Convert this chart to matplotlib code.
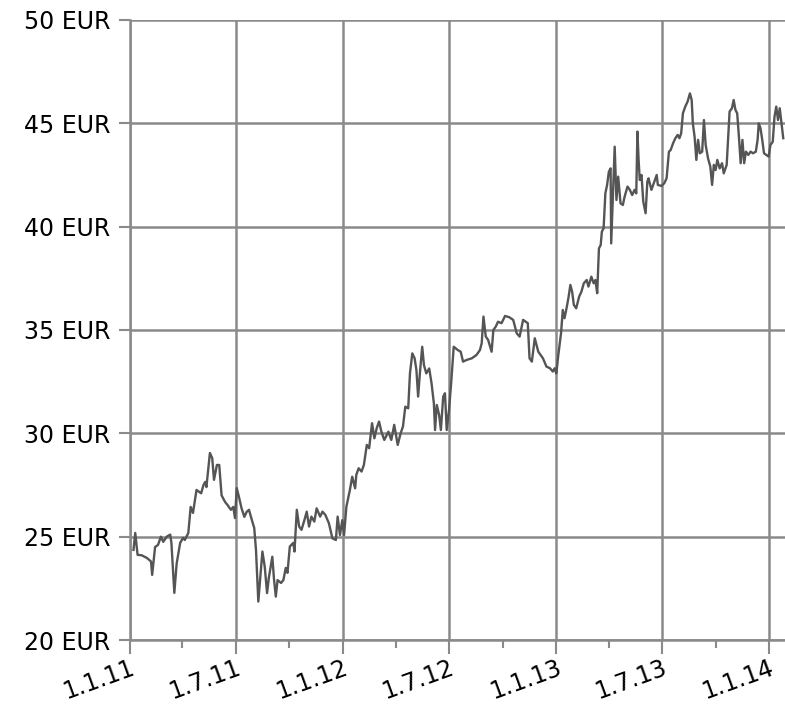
import matplotlib
matplotlib.use('Agg')
import matplotlib.pyplot as plt
import numpy as np
import pandas as pd

# price trace, days counted from 1.1.2011
days = [6, 9, 13, 20, 29, 36, 38, 43, 48, 53, 57, 63, 69, 71, 76, 80, 86, 91, 94, 100,
        104, 108, 114, 122, 126, 129, 131, 137, 141, 144, 149, 153, 157, 163, 167, 173,
        177, 180, 183, 187, 191, 196, 200, 204, 209, 213, 216,
        220, 227, 231, 235, 238, 244, 247, 250, 253, 259, 263, 267, 270, 274, 280, 282,
        286, 290, 294, 299, 303, 307, 311, 316, 320, 326, 330, 335, 341, 347, 353, 356,
        360, 364, 367, 371, 377, 381, 386, 388, 392, 397, 401, 406, 410, 415, 419, 423,
        427, 431, 436,
        443, 448, 453, 459, 464, 468, 472, 477, 480, 484, 488, 491, 494, 497, 501, 504,
        508, 513, 517, 521, 523, 526, 530, 533, 537, 540, 543, 547, 551, 555, 562, 567,
        571, 577, 586, 594, 600, 603, 606, 610, 614, 620, 623, 627, 631, 637, 643, 650,
        657, 663, 668, 674,
        682, 685, 689, 694, 700, 704, 708, 714, 720, 725, 728, 731, 734, 739, 742, 745,
        749, 752, 755, 758, 761, 765, 770, 774, 778, 783, 786, 791, 795, 798, 801, 804,
        807, 809, 812, 815, 818, 821, 824, 825, 828, 831, 834, 837, 841, 845, 848, 853,
        857, 861, 865, 868, 870, 872, 874, 877, 880, 884, 887, 889, 894, 898, 903, 905,
        911, 916, 920, 924, 927, 931, 935, 939, 942, 945, 948, 952, 956, 960, 963, 965,
        968, 971, 974, 977, 981, 984, 987, 991, 995, 998, 1001, 1004, 1007, 1011, 1015,
        1018, 1023, 1025, 1028, 1032, 1035, 1038, 1041, 1044, 1047, 1050, 1053, 1056,
        1060, 1064, 1068, 1073, 1076, 1078, 1081, 1084, 1087, 1091, 1095, 1098, 1102,
        1105, 1108, 1111, 1114, 1117, 1120]

prices = [24.36, 25.18, 24.12, 24.10, 23.97, 23.80, 23.15, 24.50, 24.60, 25.00, 24.75,
          25.00, 25.10, 24.70, 22.28, 23.70, 24.70, 24.94, 24.84, 25.18,
          26.44, 26.15, 27.26, 27.10, 27.50, 27.65, 27.40, 29.05, 28.80, 27.75, 28.47,
          28.47, 27.00, 26.68, 26.54, 26.30, 26.44, 25.90, 27.35, 26.90, 26.40, 25.96,
          26.20, 26.30, 25.80, 25.42, 24.36,
          21.86, 24.28, 23.55, 22.27, 23.00, 24.03, 22.90, 22.10, 22.90, 22.76, 22.90,
          23.49, 23.25, 24.52, 24.70, 24.28, 26.30, 25.49, 25.33, 25.80, 26.21, 25.49,
          25.97, 25.73, 26.37, 25.97, 26.21, 26.05, 25.65, 24.92, 24.84, 25.97, 25.08,
          25.80, 25.08, 26.45, 27.26, 27.90, 27.34, 27.99, 28.31, 28.15, 28.47, 29.44,
          29.28, 30.49, 29.76, 30.25, 30.57, 30.08, 29.68,
          30.08, 29.68, 30.41, 29.44, 30.00, 30.33, 31.29, 31.21, 32.90, 33.87, 33.63,
          33.07, 31.78, 32.90, 34.19, 33.30, 32.90, 33.14, 32.42, 31.45, 30.16, 31.37,
          30.89, 30.16, 31.78, 31.94, 30.16, 31.13, 32.58, 34.19, 34.03, 33.95, 33.47,
          33.55, 33.63, 33.79, 34.03, 34.36, 35.65, 34.68, 34.52, 33.95, 35.00, 35.16,
          35.40, 35.33, 35.68, 35.62, 35.49, 34.84, 34.68, 35.49,
          35.33, 33.63, 33.47, 34.60, 33.95, 33.79, 33.63, 33.23, 33.15, 32.99, 33.15,
          32.90, 33.71, 34.84, 35.97, 35.57, 36.13, 36.61, 37.18, 36.86, 36.21, 36.05,
          36.61, 36.86, 37.26, 37.42, 37.10, 37.58, 37.26, 37.42, 36.78, 38.95, 39.11,
          39.76, 39.92, 41.61, 42.02, 42.66, 42.82, 39.19, 41.53, 43.87, 41.29, 42.42,
          41.13, 41.05, 41.45, 41.94, 41.78, 41.53, 41.78, 41.61, 44.60, 43.23, 42.26,
          42.50, 41.21, 40.65, 42.18, 42.34, 41.78, 42.10, 42.50, 42.02, 41.97, 42.10,
          42.34, 43.63, 43.71, 44.03, 44.28, 44.44, 44.28, 44.52, 45.49, 45.81, 46.05,
          46.45, 46.13, 45.00, 44.35, 43.23, 44.20, 43.55, 43.63, 45.16, 43.95, 43.31,
          42.90, 42.02, 42.99, 42.74, 43.23, 42.82, 43.07, 42.58, 42.99, 44.03, 45.57,
          45.73, 46.13, 45.65, 45.49, 44.35, 43.07, 44.20, 43.07, 43.63, 43.47, 43.63,
          43.55, 43.63, 44.20, 45.00, 44.76, 44.20, 43.55, 43.47, 43.39, 43.95, 44.11,
          45.32, 45.81, 45.16, 45.73, 45.00, 44.28]

y_ticks = [20, 25, 30, 35, 40, 45, 50]
x_ticks = ['2011-01-01', '2011-07-01', '2012-01-01', '2012-07-01',
           '2013-01-01', '2013-07-01', '2014-01-01']
x_minor = ['2011-04-01', '2011-10-01', '2012-04-01', '2012-10-01',
           '2013-04-01', '2013-10-01']
x_end = '2014-01-28'

dates = pd.Timestamp('2011-01-01') + pd.to_timedelta(days, unit='D')
grid_col = '#8a8a8a'

fig = plt.figure(figsize=(7.85, 7.10), dpi=100)
ax = fig.add_axes([130 / 785, 1 - 640 / 710, 655 / 785, 620 / 710])

ax.plot(dates, prices, color='#555555', lw=1.7, zorder=3)

ax.set_xlim(pd.Timestamp(x_ticks[0]), pd.Timestamp(x_end))
ax.set_ylim(y_ticks[0], y_ticks[-1])

ax.set_yticks(y_ticks)
ax.set_yticklabels([f'{v} EUR' for v in y_ticks])
ax.set_xticks([pd.Timestamp(d) for d in x_ticks])
ax.set_xticks([pd.Timestamp(d) for d in x_minor], minor=True)
ax.set_xticklabels([f'{pd.Timestamp(d).day}.{pd.Timestamp(d).month}.{pd.Timestamp(d).year % 100}'
                    for d in x_ticks], rotation=20, ha='right', rotation_mode='anchor')

ax.grid(True, which='major', color=grid_col, lw=1.8)
ax.set_axisbelow(True)
for side in ['top', 'right']:
    ax.spines[side].set_visible(False)
for side in ['left', 'bottom']:
    ax.spines[side].set_color(grid_col)
    ax.spines[side].set_linewidth(1.8)

ax.tick_params(axis='y', which='major', length=8, width=1.5, color=grid_col,
               labelsize=17, pad=6)
ax.tick_params(axis='x', which='major', length=10, width=1.5, color=grid_col,
               labelsize=17, pad=1)
ax.tick_params(axis='x', which='minor', length=6, width=1.5, color=grid_col)

fig.savefig('out.png', dpi=100)
